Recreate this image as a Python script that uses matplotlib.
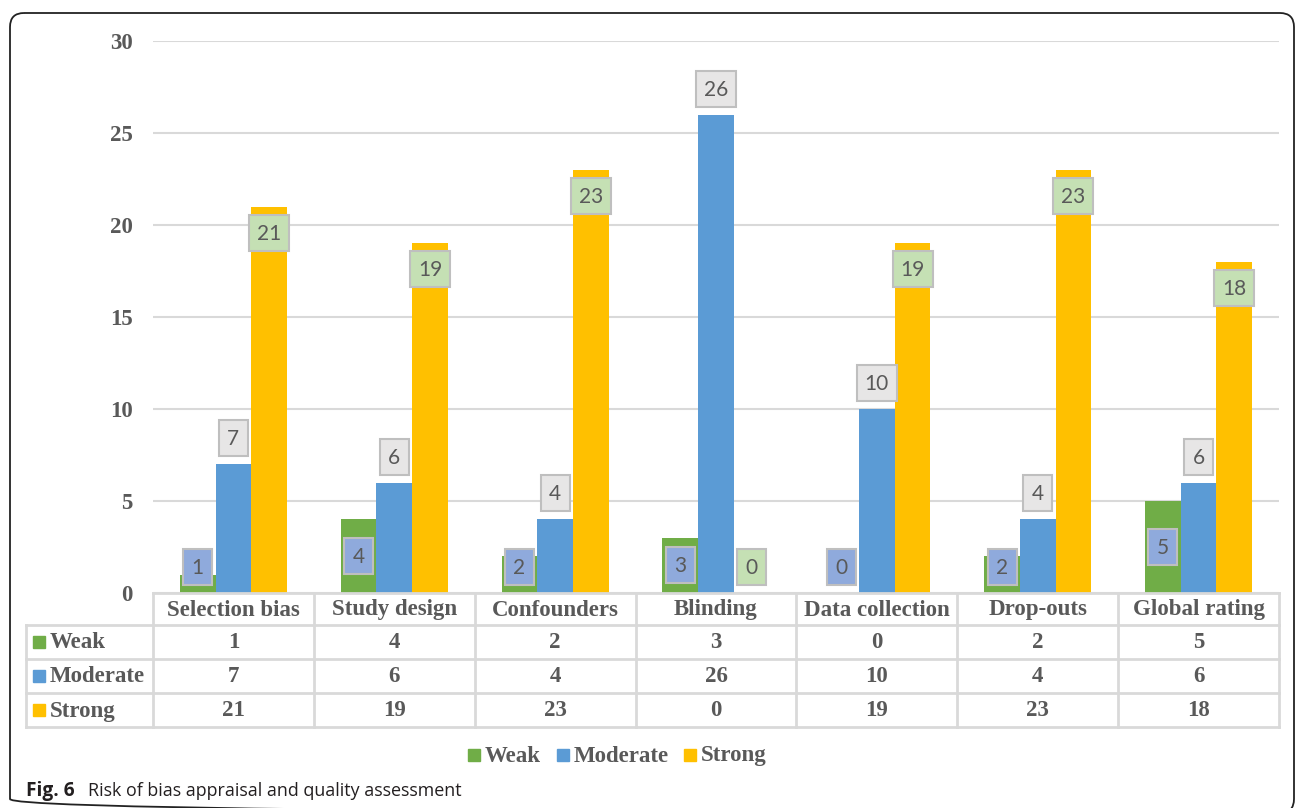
import matplotlib
matplotlib.use("Agg")
import matplotlib.pyplot as plt
from matplotlib.patches import FancyBboxPatch, Rectangle
import numpy as np

categorias = ["Selection bias", "Study design", "Confounders", "Blinding",
              "Data collection", "Drop-outs", "Global rating"]
series = ["Weak", "Moderate", "Strong"]
weak = [1, 4, 2, 3, 0, 2, 5]
moderate = [7, 6, 4, 26, 10, 4, 6]
strong = [21, 19, 23, 0, 19, 23, 18]

colores = ["#70ad47", "#5b9bd5", "#ffc000"]
caja_fondo = ["#8faadc", "#e7e6e6", "#c5e0b4"]
gris = "#595959"
linea = "#d9d9d9"
serif = dict(family="Liberation Serif", weight="bold", color=gris, fontsize=16.5)

W, H = 1295, 808
fig = plt.figure(figsize=(W / 100, H / 100), dpi=100)

# area del grafico (pixeles)
x0, x1 = 153, 1279
y_top, y_cero = 41, 593
ax = fig.add_axes([x0 / W, 1 - y_cero / H, (x1 - x0) / W, (y_cero - y_top) / H])
ax.set_zorder(0)

# capa en pixeles encima para marco, tabla, etiquetas y pie
bg = fig.add_axes([0, 0, 1, 1])
bg.set_zorder(1)
bg.set_xlim(0, W)
bg.set_ylim(H, 0)
bg.axis("off")

ax.set_xlim(-0.5, len(categorias) - 0.5)
ax.set_ylim(0, 30)
ax.set_yticks(range(0, 31, 5))
ax.set_xticks([])
ax.tick_params(axis="y", length=0, pad=14.5)
for lbl in ax.get_yticklabels():
    lbl.set_fontfamily("Liberation Serif")
    lbl.set_fontweight("bold")
    lbl.set_fontsize(16.5)
    lbl.set_color(gris)
ax.grid(axis="y", color=linea, lw=1.5)
ax.set_axisbelow(True)
for s in ax.spines.values():
    s.set_visible(False)
ax.patch.set_alpha(0)

px_por_u = (y_cero - y_top) / 30
x = np.arange(len(categorias))
ancho = 0.222
datos = [weak, moderate, strong]
for i, vals in enumerate(datos):
    ax.bar(x + (i - 1) * ancho, vals, ancho, color=colores[i], zorder=2)

# etiquetas de datos con caja
minimo = 26.5 / px_por_u
for i, vals in enumerate(datos):
    for j, v in enumerate(vals):
        if i == 0:
            yy = max(v / 2, minimo)
        elif i == 1:
            yy = v + 26 / px_por_u
        else:
            yy = max(v - 26 / px_por_u, minimo) if v > 0 else minimo
        px, py = ax.transData.transform((x[j] + (i - 1) * ancho, yy))
        by = H - py
        w = 29 if v < 10 else 40
        h = 36
        bg.add_patch(Rectangle((px - w / 2, by - h / 2), w, h, fc=caja_fondo[i],
                               ec="#bfbfbf", lw=1.5, zorder=5))
        bg.text(px, by + 1, str(v), ha="center", va="center", fontsize=15,
                family="Lato", color=gris, zorder=6)

# tabla de datos
col_w = (x1 - x0) / len(categorias)
t_left = 26
filas = [593, 625, 659, 693, 727]
for k in range(len(categorias)):
    cx = x0 + (k + 0.5) * col_w
    bg.text(cx, (filas[0] + filas[1]) / 2 + 1, categorias[k], ha="center",
            va="center", **serif)
    for r, vals in enumerate(datos):
        bg.text(cx, (filas[r + 1] + filas[r + 2]) / 2 + 1, str(vals[k]),
                ha="center", va="center", **serif)
for r in range(len(series)):
    yc = (filas[r + 1] + filas[r + 2]) / 2
    bg.add_patch(Rectangle((33, yc - 6), 12, 12, color=colores[r]))
    bg.text(50, yc + 1, series[r], ha="left", va="center", **serif)

for yy in filas:
    bg.plot([t_left if yy > filas[0] else x0, x1], [yy, yy], color=linea, lw=2)
for k in range(len(categorias) + 1):
    xx = x0 + k * col_w
    bg.plot([xx, xx], [filas[0], filas[-1]], color=linea, lw=2)
bg.plot([t_left, t_left], [filas[1], filas[-1]], color=linea, lw=2)

# leyenda
ley_x = [468, 557, 684]
for i, nombre in enumerate(series):
    bg.add_patch(Rectangle((ley_x[i], 749), 12, 12, color=colores[i]))
    bg.text(ley_x[i] + 17, 756, nombre, ha="left", va="center", **serif)

# pie de figura
bg.text(26, 791, "Fig. 6", ha="left", va="center", fontsize=13.8,
        family="Open Sans", weight="bold", color="#231f20")
bg.text(88, 791, "Risk of bias appraisal and quality assessment", ha="left",
        va="center", fontsize=12.9, family="Open Sans", color="#231f20")

# marco redondeado
bg.add_patch(FancyBboxPatch((10, 13), 1284, 800, boxstyle="round,pad=0,rounding_size=14",
                            fc="none", ec="#222222", lw=1.3))

fig.savefig("out.png", dpi=100)
